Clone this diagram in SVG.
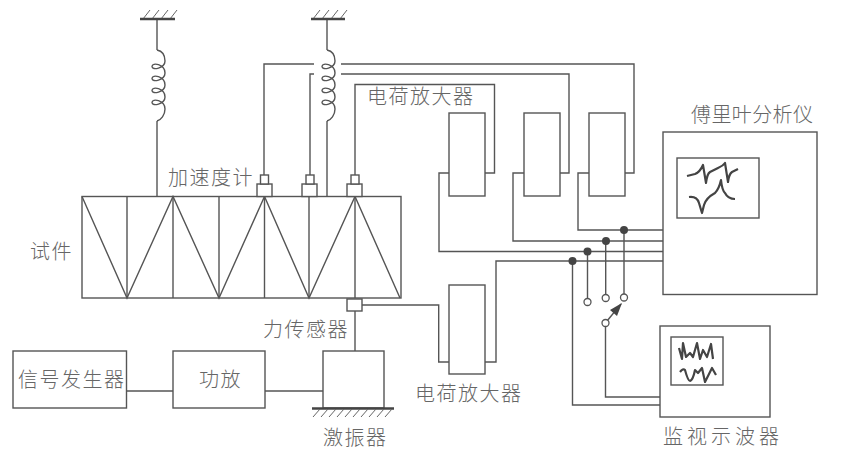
<svg xmlns="http://www.w3.org/2000/svg" width="850" height="461" viewBox="0 0 850 461">
<style>
.l{fill:none;stroke:#555;stroke-width:1.4}
.b{fill:#fff;stroke:#555;stroke-width:1.4}
.g{fill:none;stroke:#444;stroke-width:2.4}
.h{fill:none;stroke:#666;stroke-width:1}
.w{fill:none;stroke:#444;stroke-width:2.2;stroke-linejoin:round}
.d{fill:#444}
.o{fill:#fff;stroke:#555;stroke-width:1.3}
text{font-family:"Noto Sans CJK SC","Noto Sans CJK JP",sans-serif;font-size:20px;font-weight:300;fill:#666;letter-spacing:1.500px}
</style>
<defs>
<path id="coil" class="l" d="M0 50C5 51 8 55 8 61C8 68 -5 71 -5 66.500C-5 62 8 64 8 73C8 80 -5 83 -5 78.500C-5 74 8 76 8 85C8 92 -5 95 -5 90.500C-5 86 8 88 8 97C8 104 -5 107 -5 102.500C-5 98 8 100 8 109C8 115 4 120 0 121"/>
<path id="anchor" class="h" d="M-14 19L-7 10M-5 19L2 10M4 19L11 10M13 19L20 10"/>
</defs>
<g id="connectors">
<path class="l" d="M157 19V50M157 121V197"/>
<path class="l" d="M327 19V50M327 121V197"/>
<path class="l" d="M264 175V64H314M310 175V74H314M355 175V84.500H494.500V173H485"/>
<path class="l" d="M341 64H634V173H625M341 74H569V173H560"/>
<path class="l" d="M449 173H439V251.500H663M524 173H513V241H663M589 173H578V230H663"/>
<path class="l" d="M362 305H438.700V362H449M485 362H496V261H663"/>
<path class="l" d="M355 311V351M126.500 391H173M265 391H323"/>
<path class="l" d="M624 230V294M605.700 241V294.500M587.500 251.500V298.500M572.500 261V405H661M605.500 326.500V397H661"/>
<path class="l" d="M607 321L621 304"/>
<path class="d" d="M622 303L617 316L610 310Z"/>
<circle class="d" cx="624" cy="230" r="4"/>
<circle class="d" cx="606" cy="241" r="4"/>
<circle class="d" cx="587.500" cy="251.500" r="4"/>
<circle class="d" cx="572.500" cy="261" r="4"/>
<circle class="o" cx="624" cy="297.500" r="3.500"/>
<circle class="o" cx="605.700" cy="298" r="3.500"/>
<circle class="o" cx="587.500" cy="302" r="3.500"/>
<circle class="o" cx="605.500" cy="323" r="3.500"/>
</g>
<g id="spring-left">
<use href="#anchor" x="157"/><path class="g" d="M140 19H175"/><use href="#coil" x="157"/>
</g>
<g id="spring-right">
<use href="#anchor" x="327"/><path class="g" d="M311 19H345"/><use href="#coil" x="327"/>
</g>
<g id="specimen">
<rect class="b" x="82" y="196.500" width="319" height="101.500"/>
<path class="l" d="M82 196.500L127 298L173 196.500L219 298L264.500 196.500L309 298L355 196.500L400 298"/>
<path class="l" d="M127 196.500V298M173 196.500V298M219 196.500V298M264.500 196.500V298M309 196.500V298M355 196.500V298"/>
<text x="30" y="259">试件</text>
</g>
<g id="accelerometers">
<rect class="b" x="257" y="184" width="15" height="12.500"/><rect class="b" x="260.500" y="175" width="8" height="9"/>
<rect class="b" x="302" y="184" width="15" height="12.500"/><rect class="b" x="306" y="175" width="8" height="9"/>
<rect class="b" x="347" y="184" width="15" height="12.500"/><rect class="b" x="351" y="175" width="8" height="9"/>
<text x="168" y="185">加速度计</text>
</g>
<g id="force-sensor">
<rect class="b" x="347" y="299" width="15" height="12"/>
<text x="263" y="337">力传感器</text>
</g>
<g id="signal-generator">
<rect class="b" x="13" y="351" width="113.500" height="57"/>
<text x="18" y="387">信号发生器</text>
</g>
<g id="power-amp">
<rect class="b" x="173" y="351" width="92" height="57"/>
<text x="199" y="387">功放</text>
</g>
<g id="shaker">
<rect class="b" x="323" y="351" width="61" height="57"/>
<path class="g" d="M312 408.500H394"/>
<path class="h" d="M313 417L320 409M321 417L328 409M329 417L336 409M337 417L344 409M345 417L352 409M353 417L360 409M361 417L368 409M369 417L376 409M377 417L384 409M385 417L392 409"/>
<text x="323" y="445">激振器</text>
</g>
<g id="charge-amp-1">
<rect class="b" x="449" y="113" width="36" height="83"/>
<text x="367" y="104">电荷放大器</text>
</g>
<g id="charge-amp-2"><rect class="b" x="524" y="113" width="36" height="83"/></g>
<g id="charge-amp-3"><rect class="b" x="589" y="113" width="36" height="83"/></g>
<g id="charge-amp-4">
<rect class="b" x="449" y="285" width="36" height="89"/>
<text x="415" y="401">电荷放大器</text>
</g>
<g id="fourier-analyzer">
<rect class="b" x="663" y="132" width="154" height="162.500"/>
<rect class="l" x="677" y="158" width="82" height="60"/>
<path class="w" d="M687 176L695 174Q700 172 703 165L706 183Q707 174 710 172L718 168Q723 166 725 163L728 182Q729 174 732 172L738 169"/>
<path class="w" d="M689 197Q697 196 699 203L702 213L704 205Q706 198 715 193Q719 189 721 180Q722 190 725 193Q728 199 735 199"/>
<text x="691" y="122" style="letter-spacing:0.400px">傅里叶分析仪</text>
</g>
<g id="monitor-oscilloscope">
<rect class="b" x="660" y="326" width="110" height="91"/>
<rect class="l" x="671" y="337" width="52" height="48"/>
<path class="w" d="M679 348L682 359L683 343L686 357L690 353L693 357L697 343L700 359L703 350L707 357L711 344L713 359"/>
<path class="w" d="M680 372Q683 368 685 370Q688 381 690 381Q693 380 695 370L698 373L702 368L705 382L712 368L716 375"/>
<text x="663" y="444" style="letter-spacing:4px">监视示波器</text>
</g>
</svg>
